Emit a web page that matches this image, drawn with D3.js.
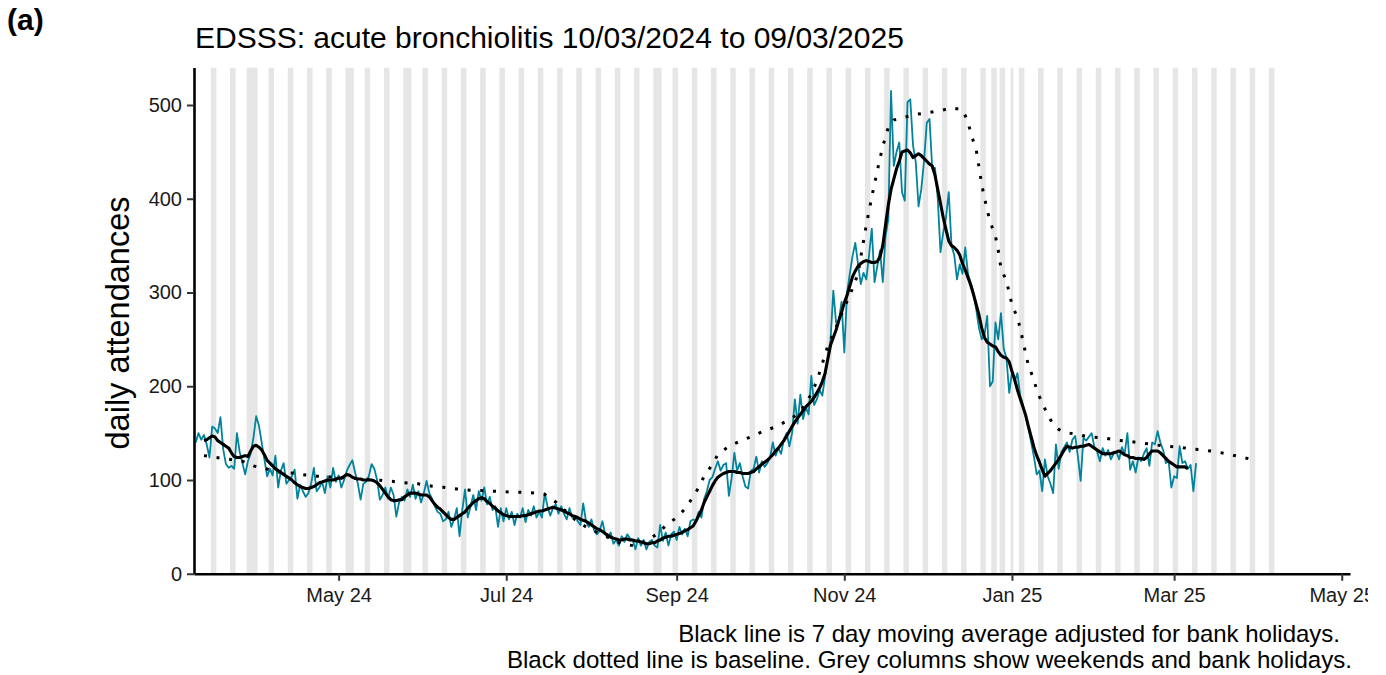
<!DOCTYPE html>
<html><head><meta charset="utf-8">
<script src="https://cdn.jsdelivr.net/npm/d3@7"></script>
<style>
body{margin:0;background:#fff}
svg{display:block}
text{font-family:"Liberation Sans",Arial,Helvetica,sans-serif}
</style>
</head><body>
<svg id="chart" width="1386" height="675"></svg>
<script>
// ---------------- DATA ----------------
const startDate = "2024-03-10";
// daily attendances, Sun..Sat per row, from 10/03/2024 to 09/03/2025
const dailyAttendances = [
140,150,143,148,138,124,157,
155,150,167,133,117,113,115,
112,150,130,118,106,120,128,
145,168,158,140,122,104,112,
105,126,92,110,118,96,100,
104,111,80,95,88,82,86,
96,113,88,92,98,86,104,
92,113,98,105,92,100,110,
116,121,108,96,79,96,98,
104,117,112,100,79,84,92,
80,92,84,61,76,82,78,
90,82,95,80,88,76,86,
99,86,80,72,66,64,56,
58,66,50,58,70,40,68,
90,60,72,84,68,88,78,
92,74,82,68,72,50,70,
56,70,58,66,52,64,60,
70,55,68,62,72,60,66,
60,86,72,62,70,74,64,
72,64,58,70,60,62,56,
52,75,56,50,58,46,42,
46,56,42,38,44,32,36,
30,40,34,42,38,36,26,
38,30,36,26,34,36,30,
28,52,35,44,30,42,45,
36,50,42,48,40,56,58,
56,66,60,80,88,100,103,
112,120,110,116,118,83,102,
129,110,118,104,93,91,110,
112,125,108,120,114,118,124,
140,126,134,128,143,150,136,
150,186,160,191,165,178,170,
211,180,186,196,190,210,230,
250,302,268,270,290,236,300,
320,339,353,330,309,321,314,
340,368,311,328,345,311,360,
378,515,435,450,460,407,398,
503,506,457,439,392,410,440,
481,485,432,433,400,343,364,
380,407,350,340,314,330,320,
348,320,310,300,282,262,250,
255,275,200,205,268,250,278,
240,230,193,215,205,214,190,
180,168,155,140,125,106,110,
88,122,104,96,86,138,112,
130,135,140,130,143,147,125,
99,145,142,146,150,135,130,
120,134,126,132,122,128,130,
122,135,128,150,111,120,108,
124,120,128,134,115,140,138,
152,140,132,118,120,92,104,
102,136,118,120,112,116,88,
118
];
// 7 day moving average, from 13/03/2024
const movingAvgStart = "2024-03-13";
const movingAverage = [
142,143,145,147,146,142,140,
138,136,134,129,125,124,124,
125,126,125,131,136,137,135,
132,127,121,118,115,112,110,
108,106,104,102,100,97,95,
93,92,91,91,92,93,95,
97,98,99,100,100,100,101,
102,102,104,106,105,103,102,
101,101,100,100,100,100,99,
97,94,90,86,82,79,78,
78,79,79,82,84,86,86,
86,85,84,84,84,82,78,
74,71,69,66,63,60,58,
58,60,62,64,66,70,73,
76,78,80,81,80,77,75,
72,70,67,65,63,62,61,
61,61,61,61,62,62,63,
64,65,66,67,67,68,69,
70,71,70,69,68,67,65,
64,62,61,60,58,57,56,
54,52,50,48,47,45,43,
41,39,38,37,36,36,37,
37,36,36,35,35,34,33,
32,32,33,33,35,36,38,
39,40,40,41,42,43,44,
46,47,49,51,56,62,68,
76,82,88,94,99,103,105,
107,108,109,109,109,108,108,
107,107,107,108,109,112,114,
117,119,121,124,127,131,134,
138,142,147,152,157,162,166,
170,174,178,181,184,188,193,
198,205,214,229,244,252,260,
270,279,289,297,307,317,323,
328,331,333,334,333,332,332,
333,338,350,372,393,410,421,
432,440,450,451,452,449,444,
446,448,446,443,440,437,435,
425,410,395,380,367,355,350,
348,345,340,331,324,316,308,
298,287,276,262,252,247,245,
243,242,237,233,231,230,226,
216,207,196,187,178,169,157,
146,135,126,119,111,104,107,
110,114,118,122,127,132,136,
135,134,135,135,136,136,137,
138,136,134,132,130,128,128,
128,128,129,130,131,129,127,
126,124,124,123,123,123,122,
124,128,131,131,131,129,126,
123,120,118,116,114,114,114,
114,112
];
// baseline: day offset from startDate and value
const baselineDayOffset = [3,10,17,21,25,30,35,40,44,49,58,67,72,76,81,86,90,95,100,104,109,114,118,123,127,131,138,142,147,151,155,160,164,168,171,175,178,181,183,185,188,190,194,198,202,207,211,215,219,222,224,226,228,230,232,236,238,241,242,244,246,248,250,252,254,258,262,267,271,275,279,281,282,284,285,286,287,288,289,291,292,293,295,296,297,299,300,301,302,303,305,306,308,310,312,314,316,321,325,330,335,339,344,348,353,358,362,367,372,376,381,386];
const baselineValue = [126,123,120,115,112.3,108.5,107.5,105.3,104.1,103.3,101.5,99.8,98.4,97,95.9,93.4,92.3,90.5,89.1,88.7,88,87.3,86.9,86.2,84.6,76.5,57.7,49.9,42.8,37.6,32.1,29.5,35.5,42.5,51.3,60,69.1,82,92,104,116.5,127.2,136,141.4,146.1,152.5,156.7,162.8,170,181,192,205.5,224,243,256,284,297,320,338,372,402,430,456,476,484,487,490,492,494,497,495,482,470,452,434,415,401,388,376,360,345,326,312,300,287,273,262,248,235,222,207,196,182,170,159,154,151,148.5,146,145,142.5,141.4,139.6,138,136,135,133.2,131.9,129.7,127.5,124,121];
const bankHolidays = ["2024-03-29","2024-04-01","2024-05-06","2024-05-27","2024-08-26","2024-12-25","2024-12-26","2025-01-01"];
const shadeFrom = "2024-03-16", shadeTo = "2025-04-06";
const xTickDates = ["2024-05-01","2024-07-01","2024-09-01","2024-11-01","2025-01-01","2025-03-01","2025-05-01"];
const xTickLabels = ["May 24","Jul 24","Sep 24","Nov 24","Jan 25","Mar 25","May 25"];
const yTicks = [0,100,200,300,400,500];
const panelLabel = "(a)";
const titleText = "EDSSS: acute bronchiolitis 10/03/2024 to 09/03/2025";
const yTitle = "daily attendances";
const captionLines = ["Black line is 7 day moving average adjusted for bank holidays.",
  "Black dotted line is baseline. Grey columns show weekends and bank holidays."];

// ---------------- LAYOUT ----------------
const DAY = 864e5;
const parse = d3.utcParse("%Y-%m-%d");
const t0 = parse(startDate);
const L = 194, R = 1350, T = 67.5, B = 573.75;

const x = d3.scaleUtc()
  .domain([new Date(+t0 - 0.62*DAY), new Date(+t0 + 420*DAY)])
  .range([L, R]);
const y = d3.scaleLinear().domain([0, 540]).range([B, T]);

const svg = d3.select("#chart");
const defs = svg.append("defs");
defs.append("clipPath").attr("id","panel").append("rect")
  .attr("x",L).attr("y",T).attr("width",R-L).attr("height",B-T);
defs.append("clipPath").attr("id","page").append("rect")
  .attr("x",0).attr("y",0).attr("width",1368).attr("height",675);

const root = svg.append("g").attr("clip-path","url(#page)");

// grey columns (weekends + bank holidays), merged into runs
const bh = new Set(bankHolidays);
const shadeDays = d3.utcDay.range(parse(shadeFrom), d3.utcDay.offset(parse(shadeTo),1))
  .filter(d => d.getUTCDay()===0 || d.getUTCDay()===6 || bh.has(d3.utcFormat("%Y-%m-%d")(d)));
const runs = [];
shadeDays.forEach(d => {
  const last = runs[runs.length-1];
  if (last && +d - +last[1] === DAY) last[1] = d; else runs.push([d,d]);
});
const panel = root.append("g").attr("clip-path","url(#panel)");
panel.selectAll("rect.shade").data(runs).join("rect")
  .attr("class","shade")
  .attr("x", r => x(new Date(+r[0] - DAY/2)))
  .attr("width", r => x(new Date(+r[1] + DAY/2)) - x(new Date(+r[0] - DAY/2)))
  .attr("y", T).attr("height", B-T)
  .attr("fill", "#e6e6e6");

// series
const daily = dailyAttendances.map((v,i) => ({d: d3.utcDay.offset(t0, i), v}));
const maT0 = parse(movingAvgStart);
const ma = movingAverage.map((v,i) => ({d: d3.utcDay.offset(maT0, i), v}));
const base = baselineDayOffset.map((o,i) => ({d: new Date(+t0 + o*DAY), v: baselineValue[i]}));
const line = d3.line().x(p => x(p.d)).y(p => y(p.v));

panel.append("path").datum(daily).attr("d", line)
  .attr("fill","none").attr("stroke","#00839b").attr("stroke-width",1.8).attr("stroke-linejoin","round");
panel.append("path").datum(ma).attr("d", line)
  .attr("fill","none").attr("stroke","#000").attr("stroke-width",3.1).attr("stroke-linejoin","round");
panel.append("path").datum(base).attr("d", line)
  .attr("fill","none").attr("stroke","#000").attr("stroke-width",3)
  .attr("stroke-dasharray","3,9.7");

// axes
const xAxis = d3.axisBottom(x)
  .tickValues(xTickDates.map(parse))
  .tickFormat((d,i) => xTickLabels[i])
  .tickSizeInner(7).tickSizeOuter(0).tickPadding(7.5);
const gx = root.append("g").attr("transform",`translate(0,${B})`).call(xAxis);
gx.select(".domain").attr("stroke","#000").attr("stroke-width",2.6);
gx.selectAll(".tick line").attr("stroke","#333").attr("stroke-width",2);
gx.selectAll(".tick text").attr("font-size",20).attr("fill","#1a1a1a")
  .style("font-family",'"Liberation Sans",Arial,sans-serif');

const yAxis = d3.axisLeft(y).tickValues(yTicks).tickSizeInner(7).tickSizeOuter(0).tickPadding(5);
const gy = root.append("g").attr("transform",`translate(${L},0)`).call(yAxis);
gy.select(".domain").attr("stroke","#000").attr("stroke-width",2.6);
gy.selectAll(".tick line").attr("stroke","#333").attr("stroke-width",2);
gy.selectAll(".tick text").attr("font-size",20).attr("fill","#1a1a1a")
  .style("font-family",'"Liberation Sans",Arial,sans-serif');

// texts
root.append("text").attr("x",7).attr("y",30).attr("font-size",30).attr("font-weight","bold")
  .attr("fill","#000").text(panelLabel);
root.append("text").attr("x",195).attr("y",48).attr("font-size",30).attr("fill","#000").text(titleText);
root.append("text").attr("transform","translate(129,323) rotate(-90)").attr("text-anchor","middle")
  .attr("font-size",32.5).attr("fill","#000").text(yTitle);
root.append("text").attr("x",1340).attr("y",642).attr("text-anchor","end").attr("font-size",24)
  .attr("fill","#000").text(captionLines[0]);
root.append("text").attr("x",1352).attr("y",668).attr("text-anchor","end").attr("font-size",24.1)
  .attr("fill","#000").text(captionLines[1]);
</script>
</body></html>
